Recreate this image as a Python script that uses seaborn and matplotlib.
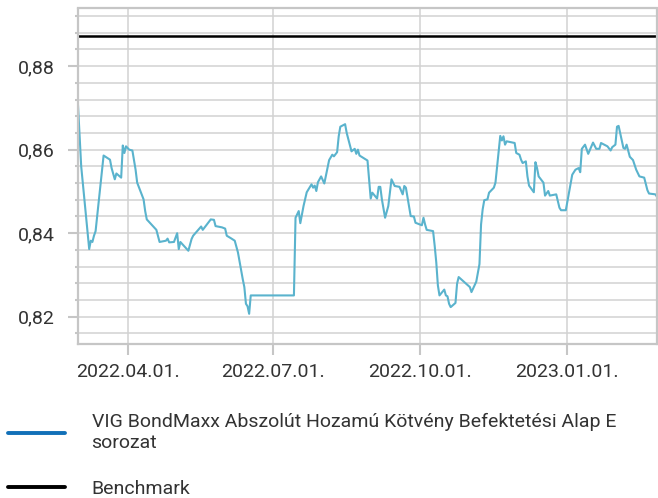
import matplotlib
matplotlib.use("Agg")
import pandas as pd
import matplotlib.pyplot as plt
import matplotlib.dates as mdates
from matplotlib.ticker import MultipleLocator, FuncFormatter
from matplotlib.lines import Line2D
import seaborn as sns

# Adatok
fund_name = "VIG BondMaxx Abszolút Hozamú Kötvény Befektetési Alap E sorozat"
fund_label = "VIG BondMaxx Abszolút Hozamú Kötvény Befektetési Alap E\nsorozat"
bench_name = "Benchmark"

dates = [
    "2022-03-01", "2022-03-03", "2022-03-05", "2022-03-08", "2022-03-09", "2022-03-10",
    "2022-03-11", "2022-03-12", "2022-03-17", "2022-03-21", "2022-03-22", "2022-03-24",
    "2022-03-25", "2022-03-28", "2022-03-29", "2022-03-30", "2022-03-31", "2022-04-02",
    "2022-04-04", "2022-04-06", "2022-04-07", "2022-04-11", "2022-04-12", "2022-04-13",
    "2022-04-19", "2022-04-20", "2022-04-21", "2022-04-25", "2022-04-26", "2022-04-27",
    "2022-04-30", "2022-05-02", "2022-05-03", "2022-05-04", "2022-05-09", "2022-05-11",
    "2022-05-12", "2022-05-17", "2022-05-18", "2022-05-23", "2022-05-25", "2022-05-26",
    "2022-05-30", "2022-06-01", "2022-06-02", "2022-06-05", "2022-06-07", "2022-06-09",
    "2022-06-12", "2022-06-13", "2022-06-14", "2022-06-15", "2022-06-16", "2022-06-17",
    "2022-07-14", "2022-07-15", "2022-07-17", "2022-07-18", "2022-07-20", "2022-07-22",
    "2022-07-25", "2022-07-26", "2022-07-27", "2022-07-28", "2022-07-29", "2022-07-31",
    "2022-08-02", "2022-08-05", "2022-08-07", "2022-08-08", "2022-08-10", "2022-08-11",
    "2022-08-12", "2022-08-15", "2022-08-16", "2022-08-19", "2022-08-21", "2022-08-22",
    "2022-08-23", "2022-08-24", "2022-08-29", "2022-08-30", "2022-08-31", "2022-09-01",
    "2022-09-04", "2022-09-05", "2022-09-06", "2022-09-07", "2022-09-09", "2022-09-11",
    "2022-09-13", "2022-09-15", "2022-09-18", "2022-09-20", "2022-09-21", "2022-09-22",
    "2022-09-25", "2022-09-27", "2022-09-28", "2022-10-02", "2022-10-03", "2022-10-04",
    "2022-10-05", "2022-10-09", "2022-10-10", "2022-10-11", "2022-10-12", "2022-10-13",
    "2022-10-16", "2022-10-17", "2022-10-18", "2022-10-19", "2022-10-20", "2022-10-23",
    "2022-10-24", "2022-10-25", "2022-11-01", "2022-11-02", "2022-11-05", "2022-11-07",
    "2022-11-08", "2022-11-09", "2022-11-10", "2022-11-12", "2022-11-13", "2022-11-16",
    "2022-11-17", "2022-11-20", "2022-11-21", "2022-11-22", "2022-11-23", "2022-11-24",
    "2022-11-29", "2022-11-30", "2022-12-02", "2022-12-03", "2022-12-04", "2022-12-06",
    "2022-12-07", "2022-12-08", "2022-12-11", "2022-12-12", "2022-12-13", "2022-12-14",
    "2022-12-17", "2022-12-18", "2022-12-20", "2022-12-21", "2022-12-25", "2022-12-27",
    "2022-12-28", "2022-12-31", "2023-01-02", "2023-01-04", "2023-01-06", "2023-01-08",
    "2023-01-09", "2023-01-10", "2023-01-12", "2023-01-14", "2023-01-17", "2023-01-19",
    "2023-01-21", "2023-01-22", "2023-01-24", "2023-01-26", "2023-01-28", "2023-01-29",
    "2023-01-31", "2023-02-01", "2023-02-02", "2023-02-05", "2023-02-06", "2023-02-07",
    "2023-02-09", "2023-02-11", "2023-02-13", "2023-02-15", "2023-02-18", "2023-02-20",
    "2023-02-21", "2023-02-25", "2023-02-26",
]

fund = [
    0.8707, 0.8560, 0.8481, 0.8362, 0.8382, 0.8379,
    0.8394, 0.8405, 0.8586, 0.8576, 0.8556, 0.8529,
    0.8543, 0.8533, 0.8610, 0.8592, 0.8608, 0.8600,
    0.8598, 0.8552, 0.8521, 0.8481, 0.8453, 0.8433,
    0.8408, 0.8394, 0.8379, 0.8382, 0.8387, 0.8378,
    0.8379, 0.8400, 0.8362, 0.8379, 0.8358, 0.8386,
    0.8394, 0.8416, 0.8408, 0.8433, 0.8432, 0.8417,
    0.8414, 0.8411, 0.8394, 0.8387, 0.8382, 0.8354,
    0.8290, 0.8271, 0.8231, 0.8225, 0.8207, 0.8251,
    0.8251, 0.8437, 0.8453, 0.8424, 0.8465, 0.8498,
    0.8517, 0.8509, 0.8514, 0.8501, 0.8522, 0.8536,
    0.8519, 0.8575, 0.8588, 0.8584, 0.8594, 0.8632,
    0.8655, 0.8661, 0.8640, 0.8596, 0.8602, 0.8590,
    0.8600, 0.8586, 0.8574, 0.8527, 0.8483, 0.8497,
    0.8483, 0.8511, 0.8511, 0.8481, 0.8437, 0.8465,
    0.8529, 0.8513, 0.8511, 0.8493, 0.8513, 0.8509,
    0.8441, 0.8440, 0.8425, 0.8419, 0.8437, 0.8421,
    0.8408, 0.8405, 0.8370, 0.8330, 0.8275, 0.8251,
    0.8265, 0.8251, 0.8249, 0.8231, 0.8223, 0.8233,
    0.8279, 0.8295, 0.8271, 0.8259, 0.8284, 0.8326,
    0.8421, 0.8457, 0.8479, 0.8481, 0.8497, 0.8509,
    0.8521, 0.8633, 0.8622, 0.8632, 0.8612, 0.8620,
    0.8616, 0.8592, 0.8588, 0.8576, 0.8568, 0.8572,
    0.8536, 0.8514, 0.8498, 0.8570, 0.8556, 0.8536,
    0.8521, 0.8490, 0.8501, 0.8490, 0.8493, 0.8461,
    0.8455, 0.8455, 0.8497, 0.8540, 0.8552, 0.8556,
    0.8546, 0.8602, 0.8612, 0.8590, 0.8617, 0.8602,
    0.8602, 0.8616, 0.8612, 0.8608, 0.8598, 0.8606,
    0.8612, 0.8655, 0.8657, 0.8604, 0.8602, 0.8612,
    0.8583, 0.8575, 0.8552, 0.8536, 0.8533, 0.8503,
    0.8495, 0.8493, 0.8487,
]

bench_level = 0.8873
benchmark = [bench_level] * len(dates)

y_ticks_major = 0.02
y_ticks_minor = 0.004

# Színek
fund_color = "#5ab3cd"
fund_legend_color = "#1170b8"
bench_color = "#000000"
grid_color = "#d2d2d2"
spine_color = "#c6c6c6"
text_color = "#333333"

df = pd.DataFrame({
    "datum": pd.to_datetime(dates),
    fund_name: fund,
    bench_name: benchmark,
})

sns.set_theme(style="white")
plt.rcParams["font.family"] = ["Roboto", "DejaVu Sans"]

fig = plt.figure(figsize=(6.58, 4.98), dpi=100)
ax = fig.add_axes([78 / 658, 1 - 344 / 498, 579 / 658, (344 - 8.5) / 498])

sns.lineplot(data=df, x="datum", y=fund_name, color=fund_color, linewidth=1.5, ax=ax)
sns.lineplot(data=df, x="datum", y=bench_name, color=bench_color, linewidth=1.8, ax=ax)

ax.set_xlim(df["datum"].iloc[0], df["datum"].iloc[-1])
ax.set_ylim(0.81347, 0.8938)
ax.set_xlabel("")
ax.set_ylabel("")

ax.xaxis.set_major_locator(mdates.MonthLocator(bymonth=[1, 4, 7, 10]))
ax.xaxis.set_major_formatter(mdates.DateFormatter("%Y.%m.%d."))
ax.yaxis.set_major_locator(MultipleLocator(y_ticks_major))
ax.yaxis.set_minor_locator(MultipleLocator(y_ticks_minor))
ax.yaxis.set_major_formatter(FuncFormatter(lambda v, p: f"{v:.2f}".replace(".", ",")))

ax.grid(which="both", axis="y", color=grid_color, linewidth=1.1)
ax.grid(which="major", axis="x", color=grid_color, linewidth=1.1)
ax.set_axisbelow(True)

for side, sp in ax.spines.items():
    sp.set_color(spine_color)
    sp.set_linewidth(1.6)

ax.tick_params(axis="y", which="major", direction="out", length=7.5, width=1.5,
               color=spine_color, pad=9, labelsize=14, labelcolor=text_color, left=True)
ax.tick_params(axis="y", which="minor", direction="out", length=2.5, width=1.5,
               color=spine_color, left=True)
ax.tick_params(axis="x", which="major", direction="out", length=8, width=1.5,
               color=spine_color, pad=6, labelsize=14, labelcolor=text_color, bottom=True)

handles = [
    Line2D([], [], color=fund_legend_color, linewidth=2.8),
    Line2D([], [], color=bench_color, linewidth=2.8),
]
fig.legend(handles, [fund_label, bench_name], loc="upper left",
           bbox_to_anchor=(8 / 658, 1 - 413 / 498), frameon=False,
           fontsize=14, labelcolor=text_color, handlelength=2.95, handletextpad=1.35,
           labelspacing=1.45, borderpad=0, borderaxespad=0)

fig.savefig("out.png", dpi=100)
